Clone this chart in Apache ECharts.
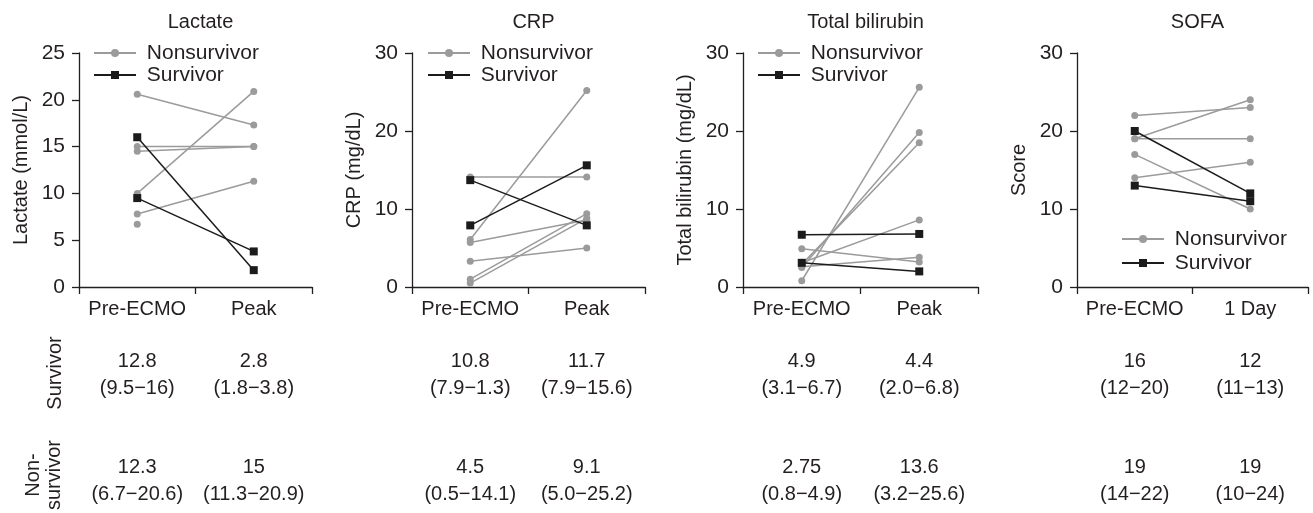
<!DOCTYPE html>
<html>
<head>
<meta charset="utf-8">
<title>ECMO panels</title>
<script src="https://cdn.jsdelivr.net/npm/echarts@6/dist/echarts.min.js"></script>
<style>
  html, body { margin: 0; padding: 0; background: #fff; }
  #main { width: 1313px; height: 513px; }
</style>
</head>
<body>
<div id="main"></div>
<script>
// categories
var catPeak = ['Pre-ECMO', 'Peak'];
var catDay = ['Pre-ECMO', '1 Day'];

var panelTitles = ['Lactate', 'CRP', 'Total bilirubin', 'SOFA'];
var axisNames = ['Lactate (mmol/L)', 'CRP (mg/dL)', 'Total bilirubin (mg/dL)', 'Score'];
var yMax = [25, 30, 30, 30];
var yStep = [5, 10, 10, 10];

// each index = one patient (pre value, later value)
var lactateNonPre  = [20.6, 15.0, 14.5, 10.0, 7.8, 6.7];
var lactateNonPeak = [17.3, 15.0, 15.0, 20.9, 11.3, null];
var lactateSurPre  = [16.0, 9.5];
var lactateSurPeak = [1.8, 3.8];

var crpNonPre  = [14.1, 6.1, 5.7, 3.3, 1.0, 0.5];
var crpNonPeak = [14.1, 25.2, 8.6, 5.0, 9.4, 8.8];
var crpSurPre  = [13.7, 7.9];
var crpSurPeak = [7.9, 15.6];

var biliNonPre  = [4.9, 3.1, 2.9, 2.6, 2.5, 0.8];
var biliNonPeak = [3.2, 8.6, 18.5, 3.8, 19.8, 25.6];
var biliSurPre  = [6.7, 3.1];
var biliSurPeak = [6.8, 2.0];

var sofaNonPre  = [22, 19, 19, 17, 14];
var sofaNonDay1 = [23, 24, 19, 10, 16];
var sofaSurPre  = [20, 13];
var sofaSurDay1 = [12, 11];

// table under the panels: median (range)
var survivorMedian = [['12.8', '2.8'], ['10.8', '11.7'], ['4.9', '4.4'], ['16', '12']];
var survivorRange  = [['(9.5\u221216)', '(1.8\u22123.8)'], ['(7.9\u22121.3)', '(7.9\u221215.6)'],
                      ['(3.1\u22126.7)', '(2.0\u22126.8)'], ['(12\u221220)', '(11\u221213)']];
var nonMedian = [['12.3', '15'], ['4.5', '9.1'], ['2.75', '13.6'], ['19', '19']];
var nonRange  = [['(6.7\u221220.6)', '(11.3\u221220.9)'], ['(0.5\u221214.1)', '(5.0\u221225.2)'],
                 ['(0.8\u22124.9)', '(3.2\u221225.6)'], ['(14\u221222)', '(10\u221224)']];

var FONT = 'Liberation Sans, Arial, Helvetica, sans-serif';
var INK = '#231f20';
var GRAY = '#9b9b9b';
var BLACK = '#1b1b1b';

var grids = [
  { left: 79, width: 233 },
  { left: 412, width: 233 },
  { left: 743, width: 235 },
  { left: 1077, width: 231 }
];
var legendPos = [
  { left: 93, top: 42, gap: 0 },
  { left: 427, top: 42, gap: 0 },
  { left: 757, top: 42, gap: 0 },
  { left: 1121, top: 228, gap: 2 }
];

var chart = echarts.init(document.getElementById('main'));

function pairSeries(gi, pre, post, name, isSurv) {
  return pre.map(function (v, k) {
    return {
      type: 'line',
      name: name,
      xAxisIndex: gi,
      yAxisIndex: gi,
      data: [v, post[k]],
      symbol: isSurv ? 'rect' : 'circle',
      symbolSize: isSurv ? 8 : 7,
      showSymbol: true,
      showAllSymbol: true,
      lineStyle: { color: isSurv ? BLACK : GRAY, width: 1.5 },
      itemStyle: { color: isSurv ? BLACK : GRAY },
      z: isSurv ? 4 : 3,
      silent: true,
      animation: false
    };
  });
}

var nonData = [
  [lactateNonPre, lactateNonPeak],
  [crpNonPre, crpNonPeak],
  [biliNonPre, biliNonPeak],
  [sofaNonPre, sofaNonDay1]
];
var surData = [
  [lactateSurPre, lactateSurPeak],
  [crpSurPre, crpSurPeak],
  [biliSurPre, biliSurPeak],
  [sofaSurPre, sofaSurDay1]
];

var series = [];
for (var i = 0; i < 4; i++) {
  series = series.concat(pairSeries(i, nonData[i][0], nonData[i][1], 'Nonsurvivor', false));
  series = series.concat(pairSeries(i, surData[i][0], surData[i][1], 'Survivor', true));
}

chart.setOption({
  backgroundColor: '#fff',
  animation: false,
  textStyle: { fontFamily: FONT, color: INK },
  title: grids.map(function (g, i) {
    return {
      text: panelTitles[i],
      left: g.left + g.width / 2,
      top: 7,
      textAlign: 'center',
      textStyle: { fontFamily: FONT, fontSize: 20, fontWeight: 'normal', color: INK }
    };
  }),
  legend: legendPos.map(function (p) {
    return {
      data: ['Nonsurvivor', 'Survivor'],
      orient: 'vertical',
      left: p.left,
      top: p.top,
      itemWidth: 42,
      itemHeight: 10,
      itemGap: p.gap,
      padding: 0,
      selectedMode: false,
      formatter: ' {name}',
      textStyle: { fontFamily: FONT, fontSize: 21, color: INK, lineHeight: 22 }
    };
  }),
  grid: grids.map(function (g) {
    return { left: g.left, width: g.width, top: 53, height: 234 };
  }),
  xAxis: grids.map(function (g, i) {
    return {
      type: 'category',
      gridIndex: i,
      data: i === 3 ? catDay : catPeak,
      boundaryGap: true,
      axisLine: { lineStyle: { color: INK, width: 1.3 } },
      axisTick: { show: true, inside: false, length: 7, lineStyle: { color: INK, width: 1.3 } },
      axisLabel: { fontFamily: FONT, fontSize: 20, color: INK, margin: 12, interval: 0, hideOverlap: false },
      splitLine: { show: false }
    };
  }),
  yAxis: grids.map(function (g, i) {
    return {
      type: 'value',
      gridIndex: i,
      min: 0,
      max: yMax[i],
      interval: yStep[i],
      name: axisNames[i],
      nameLocation: 'middle',
      nameGap: 48,
      nameTextStyle: { fontFamily: FONT, fontSize: 20, color: INK },
      axisLine: { show: true, lineStyle: { color: INK, width: 1.3 } },
      axisTick: { show: true, inside: false, length: 7, lineStyle: { color: INK, width: 1.3 } },
      axisLabel: { fontFamily: FONT, fontSize: 21, color: INK, margin: 14 },
      splitLine: { show: false }
    };
  }),
  series: series
});

// table of median (range) under each category, placed with the axis scale
var graphics = [];
function tableText(x, y, txt) {
  graphics.push({
    type: 'text',
    x: x,
    y: y,
    silent: true,
    style: {
      text: txt,
      fontFamily: FONT,
      fontSize: 20,
      lineHeight: 27,
      fill: INK,
      align: 'center',
      verticalAlign: 'middle'
    }
  });
}
for (var p = 0; p < 4; p++) {
  for (var c = 0; c < 2; c++) {
    var px = chart.convertToPixel({ gridIndex: p }, [c, 0])[0];
    tableText(px, 375, survivorMedian[p][c] + '\n' + survivorRange[p][c]);
    tableText(px, 481, nonMedian[p][c] + '\n' + nonRange[p][c]);
  }
}
// row labels (rotated)
graphics.push({
  type: 'text', x: 55, y: 373, rotation: Math.PI / 2, silent: true,
  style: { text: 'Survivor', fontFamily: FONT, fontSize: 20, fill: INK, align: 'center', verticalAlign: 'middle' }
});
graphics.push({
  type: 'text', x: 44, y: 475, rotation: Math.PI / 2, silent: true,
  style: { text: 'Non-\nsurvivor', fontFamily: FONT, fontSize: 20, lineHeight: 21, fill: INK, align: 'center', verticalAlign: 'middle' }
});

chart.setOption({ graphic: graphics });
</script>
</body>
</html>
